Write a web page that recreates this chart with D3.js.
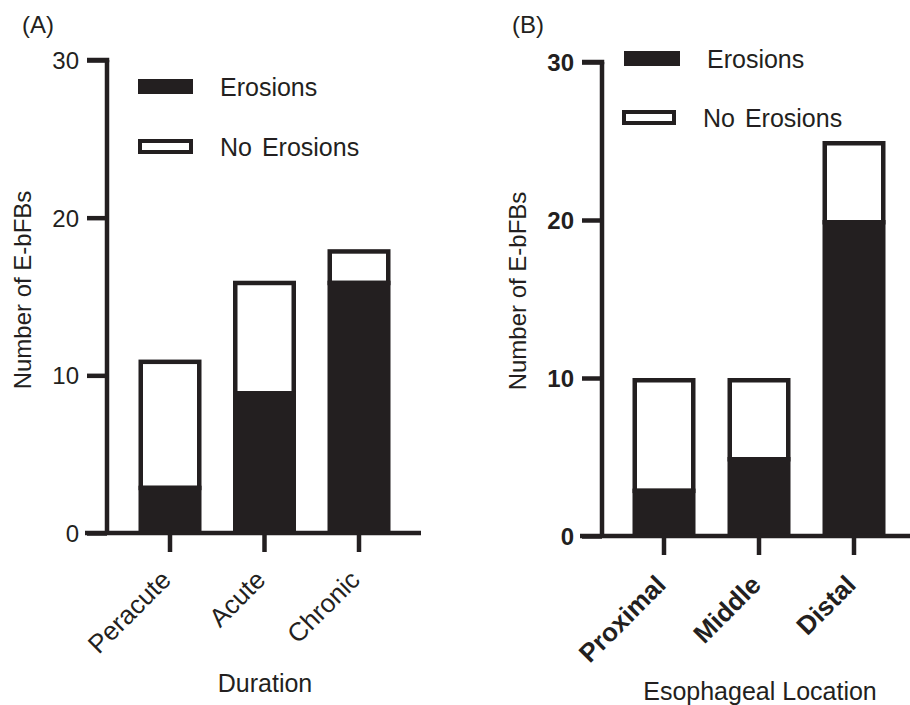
<!DOCTYPE html>
<html>
<head>
<meta charset="utf-8">
<script src="https://cdn.jsdelivr.net/npm/d3@7"></script>
<style>
  body { margin: 0; background: #fff; }
  svg { display: block; font-family: "Liberation Sans", Arial, sans-serif; }
</style>
</head>
<body>
<svg id="chart" width="910" height="705"></svg>
<script>
// Panel A data
const durationCategories = ["Peracute", "Acute", "Chronic"];
const durationErosions = [3, 9, 16];
const durationNoErosions = [8, 7, 2];
// Panel B data
const locationCategories = ["Proximal", "Middle", "Distal"];
const locationErosions = [3, 5, 20];
const locationNoErosions = [7, 5, 5];
const yTicks = [0, 10, 20, 30];
const seriesNames = ["Erosions", "No Erosions"];

const INK = "#231f20";
const svg = d3.select("#chart");

function panel(cfg) {
  const g = svg.append("g");
  const y = d3.scaleLinear().domain([0, 30]).range([cfg.y0, cfg.y30]);
  const step = (cfg.xRange[1] - cfg.xRange[0]) / 3;
  const x = d3.scaleBand().domain(cfg.cats).range(cfg.xRange)
    .paddingInner(1 - 63 / step)
    .paddingOuter((1 - 63 / step) / 2);

  const data = cfg.cats.map((c, i) => ({ cat: c, ero: cfg.ero[i], no: cfg.no[i] }));
  const sw = 4.5;

  // no erosions segments (white with outline)
  g.selectAll("rect.no").data(data).join("rect")
    .attr("x", d => x(d.cat) + sw / 2).attr("width", x.bandwidth() - sw)
    .attr("y", d => y(d.ero + d.no) + sw / 2)
    .attr("height", d => y(d.ero) - y(d.ero + d.no))
    .attr("fill", "#fff").attr("stroke", INK).attr("stroke-width", sw);
  // erosions segments
  g.selectAll("rect.ero").data(data).join("rect")
    .attr("x", d => x(d.cat)).attr("width", x.bandwidth())
    .attr("y", d => y(d.ero)).attr("height", d => y(0) - y(d.ero))
    .attr("fill", INK);

  // Y axis
  const yAxis = d3.axisLeft(y).tickValues(yTicks).tickSize(20).tickPadding(8);
  const ya = g.append("g").attr("transform", `translate(${cfg.axisX},0)`).call(yAxis);
  ya.select(".domain").attr("stroke", INK).attr("stroke-width", sw)
    .attr("d", `M0,${y(30)}V${y(0)}`);
  ya.selectAll(".tick line").attr("stroke", INK).attr("stroke-width", sw);
  ya.selectAll(".tick text").attr("fill", INK)
    .style("font-size", "24px").style("font-weight", cfg.bold ? "bold" : "normal")
    .attr("dy", "0.36em");
  g.append("line").attr("x1", cfg.axisX - 20).attr("x2", cfg.axisX + sw / 2)
    .attr("y1", y(30)).attr("y2", y(30)).attr("stroke", INK).attr("stroke-width", sw);

  // X axis
  const xAxis = d3.axisBottom(x).tickSize(19).tickPadding(4).tickSizeOuter(0);
  const xa = g.append("g").attr("transform", `translate(0,${y(0)})`).call(xAxis);
  xa.select(".domain").attr("stroke", INK).attr("stroke-width", sw)
    .attr("d", `M${cfg.xLine[0]},0H${cfg.xLine[1]}`);
  xa.selectAll(".tick line").attr("stroke", INK).attr("stroke-width", sw);
  xa.selectAll(".tick text").attr("fill", INK)
    .style("font-size", cfg.bold ? "26px" : "26px").style("font-weight", cfg.bold ? "bold" : "normal")
    .attr("text-anchor", "end")
    .attr("transform", cfg.bold ? "translate(-3,44) rotate(-45)" : "translate(-4,42) rotate(-45)")
    .attr("y", 0).attr("dy", "0.35em");

  // Y label
  g.append("text").attr("transform", `translate(${cfg.yLabelX},${cfg.yLabelY}) rotate(-90)`)
    .attr("text-anchor", "middle").attr("fill", INK).style("font-size", "24px")
    .text("Number of E-bFBs");
  // X label
  g.append("text").attr("x", cfg.xLabelX).attr("y", cfg.xLabelY)
    .attr("text-anchor", "middle").attr("fill", INK).style("font-size", "25px")
    .text(cfg.xLabel);
  // panel letter
  g.append("text").attr("x", cfg.letterX).attr("y", 33).attr("fill", INK)
    .style("font-size", "24px").text(cfg.letter);

  // legend
  cfg.legend.forEach((L, i) => {
    if (i === 0) {
      g.append("rect").attr("x", L.x).attr("y", L.y).attr("width", L.w).attr("height", 15)
        .attr("fill", INK);
    } else {
      g.append("rect").attr("x", L.x + 2).attr("y", L.y + 2).attr("width", L.w - 4).attr("height", 11)
        .attr("fill", "#fff").attr("stroke", INK).attr("stroke-width", 4);
    }
    g.append("text").attr("x", L.tx).attr("y", L.y + 7.5).attr("dy", "0.36em")
      .attr("fill", INK).style("font-size", "25px").style("word-spacing", "3px").text(seriesNames[i]);
  });
}

panel({
  cats: durationCategories, ero: durationErosions, no: durationNoErosions,
  y0: 533, y30: 60, xRange: [122.75, 406.25], axisX: 107, xLine: [85, 421],
  bold: false, yLabelX: 31, yLabelY: 290, xLabel: "Duration", xLabelX: 265, xLabelY: 692,
  letter: "(A)", letterX: 22,
  legend: [{ x: 138, y: 79, w: 55, tx: 220 }, { x: 138, y: 139, w: 55, tx: 220 }]
});

panel({
  cats: locationCategories, ero: locationErosions, no: locationNoErosions,
  y0: 536, y30: 62, xRange: [616.5, 901.5], axisX: 602, xLine: [580, 910],
  bold: true, yLabelX: 526, yLabelY: 291, xLabel: "Esophageal Location", xLabelX: 760, xLabelY: 700,
  letter: "(B)", letterX: 512,
  legend: [{ x: 624, y: 51, w: 56, tx: 707 }, { x: 622, y: 110, w: 54, tx: 703 }]
});
</script>
</body>
</html>
